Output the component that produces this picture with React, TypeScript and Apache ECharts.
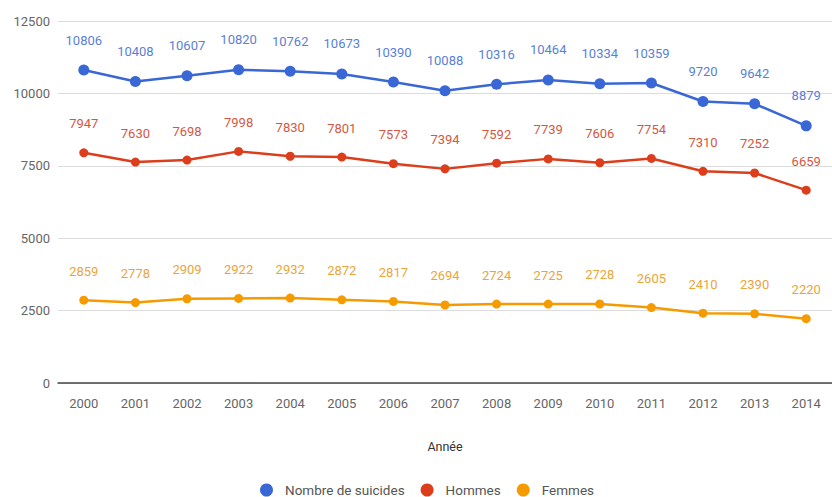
import React, { useEffect, useRef } from "react";
import * as echarts from "echarts";

const years = ["2000","2001","2002","2003","2004","2005","2006","2007","2008","2009","2010","2011","2012","2013","2014"];
const totalSuicides = [10806,10408,10607,10820,10762,10673,10390,10088,10316,10464,10334,10359,9720,9642,8879];
const hommes = [7947,7630,7698,7998,7830,7801,7573,7394,7592,7739,7606,7754,7310,7252,6659];
const femmes = [2859,2778,2909,2922,2932,2872,2817,2694,2724,2725,2728,2605,2410,2390,2220];

const seriesNames = ["Nombre de suicides", "Hommes", "Femmes"];
const lineColors = ["#3a67d6", "#dc3e1c", "#f59b00"];
const labelColors = ["#5a7fd6", "#d5573f", "#eaa53a"];

export default function App() {
  const ref = useRef<HTMLDivElement>(null);
  useEffect(() => {
    document.body.style.margin = "0";
    const chart = echarts.init(ref.current!, null, { renderer: "svg" });
    const datasets = [totalSuicides, hommes, femmes];
    chart.setOption({
      animation: false,
      textStyle: { fontFamily: "Roboto" },
      grid: { left: 58, right: -6, top: 21, bottom: 114, containLabel: false },
      legend: {
        left: 255,
        top: 478,
        icon: "circle",
        itemWidth: 13,
        itemHeight: 13,
        itemGap: 16,
        textStyle: { color: "#555", fontSize: 13.5, fontFamily: "Roboto", padding: [0, 0, 0, 7] },
        data: seriesNames,
      },
      xAxis: {
        type: "category",
        data: years,
        boundaryGap: true,
        name: "Année",
        nameLocation: "middle",
        nameGap: 57,
        nameTextStyle: { color: "#333", fontSize: 12.5, fontFamily: "Roboto" },
        axisLine: { show: true, lineStyle: { color: "#444", width: 1.5 } },
        axisTick: { show: false },
        axisLabel: { color: "#666", fontSize: 13, margin: 14, fontFamily: "Roboto" },
      },
      yAxis: {
        type: "value",
        min: 0,
        max: 12500,
        interval: 2500,
        axisLine: { show: false },
        axisTick: { show: false },
        axisLabel: {
          color: "#666",
          fontSize: 13,
          margin: 8,
          fontFamily: "Roboto",
          formatter: (v: number) => String(v),
        },
        splitLine: { lineStyle: { color: "#dcdcdc", width: 1 } },
      },
      series: seriesNames.map((name, i) => ({
        name,
        type: "line",
        data: datasets[i],
        symbol: "circle",
        symbolSize: i === 0 ? 11 : 9,
        itemStyle: { color: lineColors[i] },
        lineStyle: { color: lineColors[i], width: 2.5 },
        label: {
          show: true,
          position: "top",
          distance: 18,
          color: labelColors[i],
          fontSize: 13,
          fontFamily: "Roboto",
        },
      })),
    });
    return () => chart.dispose();
  }, []);
  return <div ref={ref} style={{ width: 832, height: 497 }} />;
}
